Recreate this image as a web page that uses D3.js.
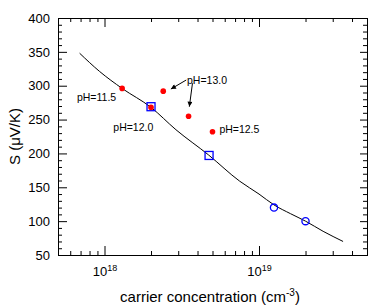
<!DOCTYPE html>
<html>
<head>
<meta charset="utf-8">
<script src="https://cdn.jsdelivr.net/npm/d3@7"></script>
<style>
  body { margin: 0; background: #fff; }
  text { font-family: Arial, "Liberation Sans", sans-serif; fill: #000; }
</style>
</head>
<body>
<div id="chart"></div>
<script>
// fitted curve
var curveN = [6.9e17, 9.3e17, 1.3e18, 2.0e18, 2.9e18, 4.7e18, 7.5e18, 1.0e19, 1.25e19, 1.6e19, 2.0e19, 2.6e19, 3.5e19];
var curveS = [348, 321, 296, 268, 235, 198, 159, 140, 124, 111, 100, 85, 70];

// measured points
var redN = [1.3e18, 2.0e18, 2.4e18, 3.5e18, 5.0e18];
var redS = [296, 268, 292, 255, 232];
var squareN = [2.0e18, 4.75e18];
var squareS = [269, 197];
var circleN = [1.25e19, 2.0e19];
var circleS = [120, 100];

// pH labels (left edge / baseline in data units)
var labelText = ['pH=11.5', 'pH=12.0', 'pH=13.0', 'pH=12.5'];
var labelN = [6.63e17, 1.14e18, 3.42e18, 5.54e18];
var labelS = [278, 233, 302.5, 230];

// arrows from pH=13.0 label
var arrowFromN = [3.38e18, 3.71e18];
var arrowFromS = [308.4, 303.6];
var arrowToN = [2.69e18, 3.54e18];
var arrowToS = [295.1, 269.0];

var yTicks = [50, 100, 150, 200, 250, 300, 350, 400];
var xTicks = [1e18, 1e19];

var chart_width = 384;
var chart_height = 305;
var plot_left = 58, plot_right = 367, plot_top = 18, plot_bottom = 255;

var svg = d3.select('#chart')
    .append('svg')
    .attr('width', chart_width)
    .attr('height', chart_height);

var x_scale = d3.scaleLog()
    .domain([5e17, 5e19])
    .range([plot_left, plot_right]);
var y_scale = d3.scaleLinear()
    .domain([50, 400])
    .range([plot_bottom, plot_top]);

// minor ticks
var xMinor = [];
[1e17, 1e18, 1e19].forEach(function(dec){
    for (var k = 2; k <= 9; k++) {
        var v = k * dec;
        if (v >= 5e17 && v <= 5e19) xMinor.push(v);
    }
});
var yMinor = d3.range(50, 401, 10).filter(function(v){ return v % 50 !== 0; });

function minorAxis(axis, vals) {
    return axis.tickValues(vals).tickSize(-4).tickFormat('');
}

// bottom
svg.append('g')
    .attr('transform', 'translate(0,' + plot_bottom + ')')
    .call(minorAxis(d3.axisBottom(x_scale), xMinor));
var xb = svg.append('g')
    .attr('transform', 'translate(0,' + plot_bottom + ')')
    .call(d3.axisBottom(x_scale).tickValues(xTicks).tickSize(-9).tickPadding(12));
xb.selectAll('.tick text').each(function(d){
    var t = d3.select(this).text('')
        .attr('font-size', 13).attr('dy', null).attr('y', 21);
    t.append('tspan').text('10');
    t.append('tspan').attr('dy', -5).attr('font-size', 9).text(Math.round(Math.log10(d)));
});

// top
svg.append('g')
    .attr('transform', 'translate(0,' + plot_top + ')')
    .call(minorAxis(d3.axisTop(x_scale), xMinor));
svg.append('g')
    .attr('transform', 'translate(0,' + plot_top + ')')
    .call(d3.axisTop(x_scale).tickValues(xTicks).tickSize(-9).tickFormat(''));

// left
svg.append('g')
    .attr('transform', 'translate(' + plot_left + ',0)')
    .call(minorAxis(d3.axisLeft(y_scale), yMinor));
svg.append('g')
    .attr('transform', 'translate(' + plot_left + ',0)')
    .call(d3.axisLeft(y_scale).tickValues(yTicks).tickSize(-9).tickPadding(8))
    .selectAll('.tick text').attr('font-size', 13);

// right
svg.append('g')
    .attr('transform', 'translate(' + plot_right + ',0)')
    .call(minorAxis(d3.axisRight(y_scale), yMinor));
svg.append('g')
    .attr('transform', 'translate(' + plot_right + ',0)')
    .call(d3.axisRight(y_scale).tickValues(yTicks).tickSize(-7).tickFormat(''));

svg.selectAll('.domain').attr('stroke', '#000').attr('stroke-width', 1);
svg.selectAll('.tick line').attr('stroke', '#000');
svg.selectAll('g').attr('font-family', null);

// axis titles
svg.append('text')
    .attr('x', 210)
    .attr('y', 302)
    .attr('text-anchor', 'middle')
    .attr('font-size', 15)
    .call(function(t){
        t.append('tspan').text('carrier concentration (cm');
        t.append('tspan').attr('dy', -6).attr('font-size', 10).text('-3');
        t.append('tspan').attr('dy', 6).text(')');
    });

svg.append('text')
    .attr('transform', 'translate(20,' + ((plot_top + plot_bottom) / 2) + ') rotate(-90)')
    .attr('text-anchor', 'middle')
    .attr('font-size', 15)
    .text('S (\u03bcV/K)');

// curve
var line = d3.line()
    .x(function(d){ return x_scale(d[0]); })
    .y(function(d){ return y_scale(d[1]); })
    .curve(d3.curveMonotoneX);
svg.append('path')
    .datum(d3.zip(curveN, curveS))
    .attr('fill', 'none')
    .attr('stroke', '#000')
    .attr('stroke-width', 1)
    .attr('d', line);

// blue squares
svg.selectAll('.sq')
    .data(d3.zip(squareN, squareS))
    .enter().append('rect')
    .attr('x', function(d){ return x_scale(d[0]) - 4; })
    .attr('y', function(d){ return y_scale(d[1]) - 4; })
    .attr('width', 8)
    .attr('height', 8)
    .attr('fill', 'none')
    .attr('stroke', '#0000ff')
    .attr('stroke-width', 1.3);

// blue circles
svg.selectAll('.ci')
    .data(d3.zip(circleN, circleS))
    .enter().append('circle')
    .attr('cx', function(d){ return x_scale(d[0]); })
    .attr('cy', function(d){ return y_scale(d[1]); })
    .attr('r', 3.6)
    .attr('fill', 'none')
    .attr('stroke', '#0000ff')
    .attr('stroke-width', 1.3);

// red dots
svg.selectAll('.rd')
    .data(d3.zip(redN, redS))
    .enter().append('circle')
    .attr('cx', function(d){ return x_scale(d[0]); })
    .attr('cy', function(d){ return y_scale(d[1]); })
    .attr('r', 2.8)
    .attr('fill', '#ff0000');

// labels
svg.selectAll('.lb')
    .data(d3.zip(labelText, labelN, labelS))
    .enter().append('text')
    .attr('x', function(d){ return x_scale(d[1]); })
    .attr('y', function(d){ return y_scale(d[2]); })
    .attr('font-size', 10.5)
    .text(function(d){ return d[0]; });

// arrows
svg.append('defs').append('marker')
    .attr('id', 'ah')
    .attr('viewBox', '0 0 10 10')
    .attr('refX', 10).attr('refY', 5)
    .attr('markerWidth', 7).attr('markerHeight', 5)
    .attr('markerUnits', 'userSpaceOnUse')
    .attr('orient', 'auto')
    .append('path')
    .attr('d', 'M0,0L10,5L0,10z')
    .attr('fill', '#000');

svg.selectAll('.ar')
    .data(d3.zip(arrowFromN, arrowFromS, arrowToN, arrowToS))
    .enter().append('line')
    .attr('x1', function(d){ return x_scale(d[0]); })
    .attr('y1', function(d){ return y_scale(d[1]); })
    .attr('x2', function(d){ return x_scale(d[2]); })
    .attr('y2', function(d){ return y_scale(d[3]); })
    .attr('stroke', '#000')
    .attr('stroke-width', 1)
    .attr('marker-end', 'url(#ah)');
</script>
</body>
</html>
